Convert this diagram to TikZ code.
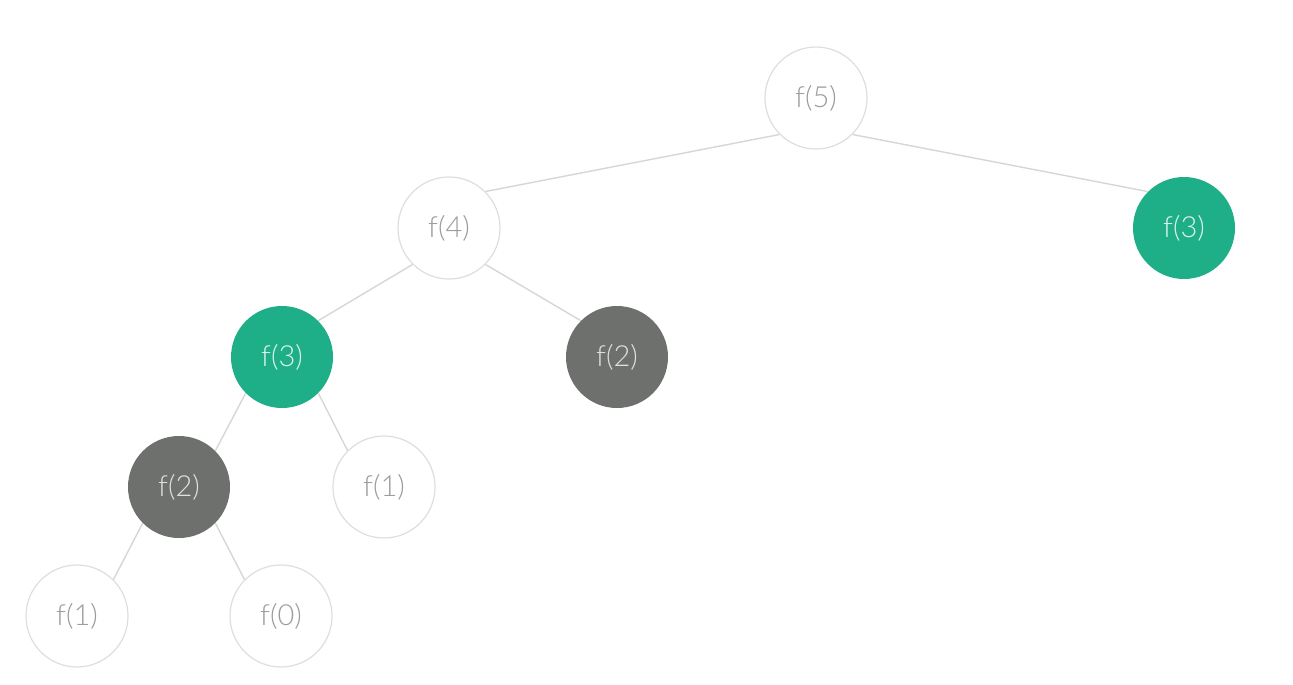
\documentclass[tikz,border=0pt]{standalone}
\usepackage{fontspec}
\setmainfont{Lato}[UprightFont=*-Light]
\definecolor{rim}{HTML}{DEDEDE}
\definecolor{edge}{HTML}{D6D6D6}
\definecolor{label}{HTML}{9C9C9C}
\definecolor{memo}{HTML}{1FAF88}
\definecolor{dup}{HTML}{6E706D}
\begin{document}
\begin{tikzpicture}[x=1pt,y=-1pt,
  call/.style={circle,minimum size=102pt,inner sep=0pt,draw=rim,line width=1.2pt,fill=white,text=label,font=\fontsize{29}{29}\selectfont},
  cached/.style={call,draw=none,fill=memo,text=white!85!memo},
  repeated/.style={call,draw=none,fill=dup,text=white!78!dup},
  link/.style={draw=edge,line width=1.4pt}]
\useasboundingbox (0,0) rectangle (1293,685);
\node[call]     (f5)  at (816,98)  {f(5)};
\node[call]     (f4)  at (449,228) {f(4)};
\node[cached]   (f3r) at (1184,228){f(3)};
\node[cached]   (f3)  at (282,357) {f(3)};
\node[repeated] (f2r) at (617,357) {f(2)};
\node[repeated] (f2)  at (179,487) {f(2)};
\node[call]     (f1r) at (384,487) {f(1)};
\node[call]     (f1)  at (77,616)  {f(1)};
\node[call]     (f0)  at (281,616) {f(0)};
% each call links from its parent's lower diagonal to its own upper diagonal
\draw[link] (f5.south west) -- (f4.north east);
\draw[link] (f5.south east) -- (f3r.north west);
\draw[link] (f4.south west) -- (f3.north east);
\draw[link] (f4.south east) -- (f2r.north west);
\draw[link] (f3.south west) -- (f2.north east);
\draw[link] (f3.south east) -- (f1r.north west);
\draw[link] (f2.south west) -- (f1.north east);
\draw[link] (f2.south east) -- (f0.north west);
\end{tikzpicture}
\end{document}
